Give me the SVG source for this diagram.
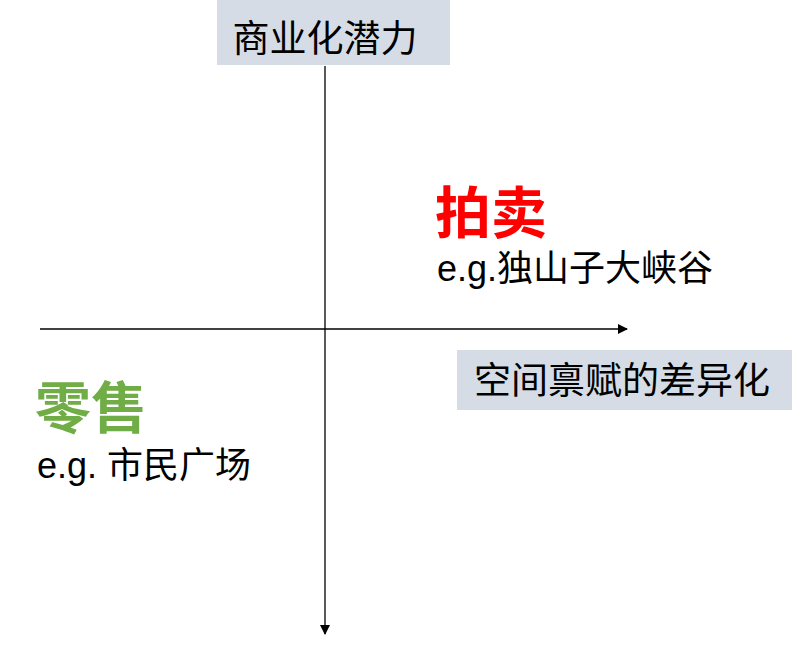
<svg xmlns="http://www.w3.org/2000/svg" width="794" height="648" viewBox="0 0 794 648">
<style>
text{font-family:"Liberation Sans","Noto Sans CJK SC",sans-serif;fill:#000}
.lbl{font-size:37px}
.ex{font-size:36px}
.big{font-size:56px;font-weight:bold}
.box{fill:#d6dce5}
.ax{stroke:#000;stroke-width:1.3;fill:none}
</style>
<defs><marker id="ah" markerWidth="10" markerHeight="10" refX="9" refY="5" orient="auto" markerUnits="userSpaceOnUse"><path d="M0,0 L10,5 L0,10 z" fill="#000"/></marker></defs>
<g id="connectors">
<line class="ax" x1="325" y1="66" x2="325" y2="634" marker-end="url(#ah)"/>
<line class="ax" x1="40" y1="329" x2="627" y2="329" marker-end="url(#ah)"/>
</g>
<g id="y-label"><rect class="box" x="217" y="0" width="233" height="65"/><text class="lbl" x="325" y="52" text-anchor="middle">商业化潜力</text></g>
<g id="x-label"><rect class="box" x="457" y="350" width="335" height="60"/><text class="lbl" x="622" y="394" text-anchor="middle">空间禀赋的差异化</text></g>
<g id="auction"><text class="big" x="435" y="233" style="fill:#ff0000">拍卖</text><text class="ex" x="437" y="281">e.g.独山子大峡谷</text></g>
<g id="retail"><text class="big" x="35" y="428" style="fill:#70ad47">零售</text><text class="ex" x="37" y="478">e.g. 市民广场</text></g>
</svg>
